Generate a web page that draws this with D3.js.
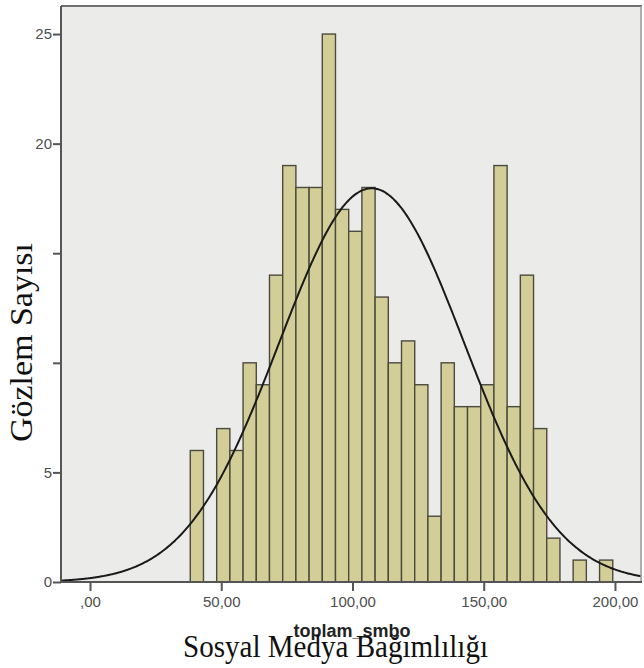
<!DOCTYPE html>
<html>
<head>
<meta charset="utf-8">
<script src="https://cdn.jsdelivr.net/npm/d3@7"></script>
<style>
  html, body { margin: 0; padding: 0; background: #ffffff; }
  svg { display: block; }
</style>
</head>
<body>
<svg id="chart" width="644" height="668"></svg>
<script>
// ---- data ----
const binEdges = [38.2, 43.23, 48.26, 53.29, 58.32, 63.35, 68.38, 73.41, 78.44, 83.47,
  88.5, 93.53, 98.56, 103.59, 108.62, 113.65, 118.68, 123.71, 128.74, 133.77,
  138.8, 143.83, 148.86, 153.89, 158.92, 163.95, 168.98, 174.01, 179.04, 184.07,
  189.1, 194.13, 199.16];
const counts = [6, 0, 7, 6, 10, 9, 14, 19, 18, 18, 25, 17, 16, 18, 13, 10, 11, 9, 3,
  10, 8, 8, 9, 19, 8, 14, 7, 2, 0, 1, 0, 1];
const xTicks = [0, 50, 100, 150, 200];
const xTickLabels = [",00", "50,00", "100,00", "150,00", "200,00"];
const yTicks = [0, 5, 10, 15, 20, 25];
const yTickLabels = ["0", "5", "", "", "20", "25"];
// normal curve parameters (fitted by the original chart)
const curveMean = 107.3;
const curveSd = 35.3;
const curveN = 316;

const svg = d3.select("#chart");
const plot = { left: 61, right: 642, top: 6, bottom: 582 };

const x = d3.scaleLinear().domain([-11.05, 210.3]).range([plot.left, plot.right]);
const y = d3.scaleLinear().domain([0, 26.28]).range([plot.bottom, plot.top]);

// plot background
svg.append("rect")
  .attr("x", plot.left).attr("y", plot.top)
  .attr("width", plot.right - plot.left).attr("height", plot.bottom - plot.top)
  .attr("fill", "#ebebea");

// bars
const bins = counts.map((c, i) => ({ x0: binEdges[i], x1: binEdges[i + 1], c }));
svg.append("g").selectAll("rect")
  .data(bins.filter(d => d.c > 0))
  .join("rect")
  .attr("x", d => x(d.x0))
  .attr("y", d => y(d.c))
  .attr("width", d => x(d.x1) - x(d.x0))
  .attr("height", d => y(0) - y(d.c))
  .attr("fill", "#d3ce97")
  .attr("stroke", "#4b4a3e")
  .attr("stroke-width", 1.4);

// normal curve
const bw = binEdges[1] - binEdges[0];
const peak = curveN * bw / (curveSd * Math.sqrt(2 * Math.PI));
const curvePts = d3.range(x.domain()[0], x.domain()[1] + 0.01, 0.5)
  .map(v => [v, peak * Math.exp(-((v - curveMean) ** 2) / (2 * curveSd * curveSd))]);
svg.append("path")
  .datum(curvePts)
  .attr("fill", "none")
  .attr("stroke", "#1a1a1a")
  .attr("stroke-width", 2)
  .attr("d", d3.line().x(d => x(d[0])).y(d => y(d[1])).curve(d3.curveBasis));

// frame (top and right)
svg.append("line").attr("x1", plot.left).attr("x2", plot.right)
  .attr("y1", plot.top).attr("y2", plot.top)
  .attr("stroke", "#6f6f6f").attr("stroke-width", 2);
svg.append("line").attr("x1", plot.right - 1).attr("x2", plot.right - 1)
  .attr("y1", plot.top).attr("y2", plot.bottom)
  .attr("stroke", "#9a9a9a").attr("stroke-width", 1.5);

// axes
const xAxis = d3.axisBottom(x).tickValues(xTicks)
  .tickFormat((d, i) => xTickLabels[i]).tickSize(9).tickSizeOuter(0).tickPadding(5);
const gx = svg.append("g").attr("transform", `translate(0,${plot.bottom})`).call(xAxis);
gx.select(".domain").attr("stroke", "#555").attr("stroke-width", 2)
  .attr("d", `M${plot.left},0H${plot.right}`);

const yAxis = d3.axisLeft(y).tickValues(yTicks)
  .tickFormat((d, i) => yTickLabels[i]).tickSize(8).tickSizeOuter(0).tickPadding(1);
const gy = svg.append("g").attr("transform", `translate(${plot.left},0)`).call(yAxis);
gy.select(".domain").attr("stroke", "#555").attr("stroke-width", 2)
  .attr("d", `M0,${plot.top}V${plot.bottom}`);

[gx, gy].forEach(g => {
  g.selectAll(".tick line").attr("stroke", "#555").attr("stroke-width", 2);
  g.selectAll(".tick text")
    .attr("fill", "#4e4e4e")
    .style("font-family", "'Liberation Sans', Arial, sans-serif")
    .style("font-size", "15px");
});

// SPSS axis title (partly hidden behind the overlay title)
svg.append("text")
  .attr("x", 352).attr("y", 637)
  .attr("text-anchor", "middle")
  .style("font-family", "'Liberation Sans', Arial, sans-serif")
  .style("font-weight", "bold")
  .style("font-size", "18px")
  .attr("fill", "#222")
  .text("toplam_smbo");
svg.append("rect").attr("x", 170).attr("y", 640).attr("width", 330).attr("height", 28)
  .attr("fill", "#ffffff");

// overlay titles
svg.append("text")
  .attr("x", 335.5).attr("y", 656.5)
  .attr("text-anchor", "middle")
  .attr("textLength", 305).attr("lengthAdjust", "spacingAndGlyphs")
  .style("font-family", "'Liberation Serif', 'Times New Roman', serif")
  .style("font-size", "31px")
  .attr("fill", "#111")
  .text("Sosyal Medya Bağımlılığı");

svg.append("text")
  .attr("transform", "translate(32,342.5) rotate(-90)")
  .attr("text-anchor", "middle")
  .attr("textLength", 199).attr("lengthAdjust", "spacingAndGlyphs")
  .style("font-family", "'Liberation Serif', 'Times New Roman', serif")
  .style("font-size", "31px")
  .attr("fill", "#111")
  .text("Gözlem Sayısı");
</script>
</body>
</html>
